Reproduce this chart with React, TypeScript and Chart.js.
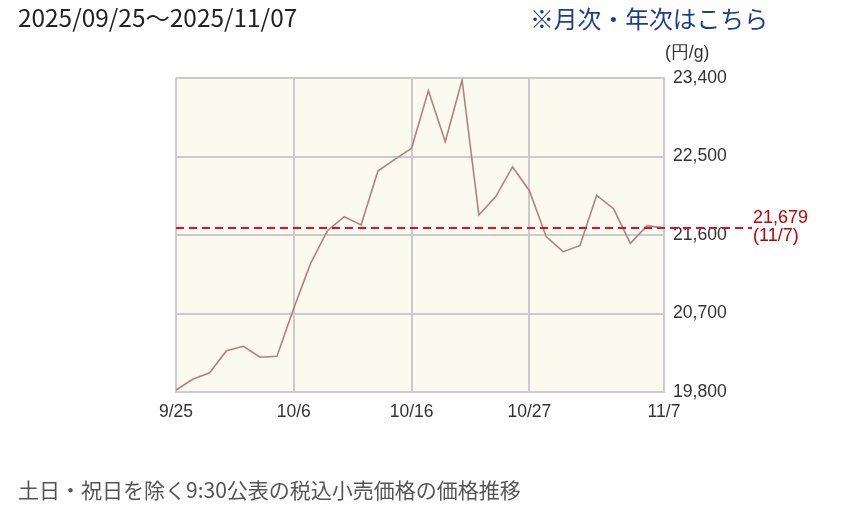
import React, { useEffect, useRef } from 'react';
import { Chart, registerables } from 'chart.js';

Chart.register(...registerables);

const dates = ['9/25','9/26','9/29','9/30','10/1','10/2','10/3','10/6','10/7','10/8','10/9','10/10','10/14','10/15','10/16','10/17','10/20','10/21','10/22','10/23','10/24','10/27','10/28','10/29','10/30','10/31','11/4','11/5','11/6','11/7'];
const prices = [19823,19946,20021,20274,20324,20198,20209,20759,21275,21650,21810,21715,22334,22468,22594,23255,22670,23377,21829,22040,22380,22108,21581,21409,21478,22055,21902,21504,21707,21679];
const tickDates = ['9/25','10/6','10/16','10/27','11/7'];
const yMin = 19800;
const yMax = 23400;
const yStep = 900;

const lastValue = prices[prices.length - 1];
const lastDate = dates[dates.length - 1];

const GRID = '#cbcbcb';
const TICK_FONT = "'Liberation Sans', Arial, sans-serif";

const bgPlugin = {
  id: 'plotBg',
  beforeDraw(chart: any) {
    const { ctx, chartArea } = chart;
    ctx.save();
    ctx.fillStyle = '#fafaee';
    ctx.fillRect(chartArea.left, chartArea.top, chartArea.right - chartArea.left, chartArea.bottom - chartArea.top);
    ctx.restore();
  },
};

const lastPlugin = {
  id: 'lastLine',
  afterDraw(chart: any) {
    const { ctx, chartArea } = chart;
    const y = chart.scales.y.getPixelForValue(lastValue);
    ctx.save();
    ctx.strokeStyle = '#ec0a1e';
    ctx.lineWidth = 2;
    ctx.setLineDash([8, 5]);
    ctx.beginPath();
    ctx.moveTo(chartArea.left, y);
    ctx.lineTo(chartArea.right + 88, y);
    ctx.stroke();
    ctx.setLineDash([]);
    ctx.fillStyle = '#c00000';
    ctx.font = `18px ${TICK_FONT}`;
    ctx.textAlign = 'left';
    ctx.textBaseline = 'middle';
    ctx.fillText(lastValue.toLocaleString('en-US'), chartArea.right + 89, y - 10);
    ctx.fillText(`(${lastDate})`, chartArea.right + 89, y + 8);
    ctx.restore();
  },
};

function PriceChart() {
  const ref = useRef<HTMLCanvasElement | null>(null);
  useEffect(() => {
    if (!ref.current) return;
    const chart = new Chart(ref.current, {
      type: 'line',
      data: {
        labels: dates,
        datasets: [
          {
            data: prices,
            borderColor: '#b57f7f',
            borderWidth: 1.6,
            pointRadius: 0,
            tension: 0,
            fill: false,
          },
        ],
      },
      options: {
        animation: false,
        responsive: false,
        devicePixelRatio: 1,
        layout: { padding: { left: 176, top: 78, right: 0, bottom: 0 } },
        plugins: { legend: { display: false }, tooltip: { enabled: false } },
        scales: {
          x: {
            type: 'category',
            offset: false,
            afterFit(scale: any) { scale.height = 136; },
            grid: {
              color: (c: any) => (tickDates.includes(dates[c.index]) ? GRID : 'rgba(0,0,0,0)'),
              lineWidth: 2,
              drawTicks: false,
            },
            border: { color: GRID, width: 2 },
            ticks: {
              autoSkip: false,
              maxRotation: 0,
              minRotation: 0,
              padding: 10,
              color: '#333',
              font: { family: TICK_FONT, size: 17.5 },
              callback: (_v: any, i: number) => (tickDates.includes(dates[i]) ? dates[i] : ''),
            },
          },
          y: {
            position: 'right',
            min: yMin,
            max: yMax,
            afterFit(scale: any) { scale.width = 194; },
            grid: { color: GRID, lineWidth: 2, drawTicks: false },
            border: { color: GRID, width: 2 },
            ticks: {
              stepSize: yStep,
              padding: 9,
              color: '#333',
              font: { family: TICK_FONT, size: 17.6 },
              callback: (v: any) => Number(v).toLocaleString('en-US'),
            },
          },
        },
      },
      plugins: [bgPlugin, lastPlugin],
    });
    return () => chart.destroy();
  }, []);
  return <canvas ref={ref} width={858} height={528} style={{ position: 'absolute', left: 0, top: 0, width: 858, height: 528 }} />;
}

export default function App() {
  const jp = "'Noto Sans CJK JP', 'Noto Sans', sans-serif";
  return (
    <div style={{ position: 'absolute', left: 0, top: 0, width: 858, height: 528, background: '#fff', overflow: 'hidden' }}>
      <PriceChart />
      <div style={{ position: 'absolute', left: 18, top: 5, fontFamily: jp, fontSize: 24.4, lineHeight: 1, color: '#222', whiteSpace: 'nowrap' }}>
        2025/09/25〜2025/11/07
      </div>
      <div style={{ position: 'absolute', left: 530, top: 6, fontFamily: jp, fontSize: 23.8, lineHeight: 1, color: '#1b3d91', whiteSpace: 'nowrap' }}>
        ※月次・年次はこちら
      </div>
      <div style={{ position: 'absolute', left: 665, top: 44, fontFamily: TICK_FONT, fontSize: 17.6, lineHeight: 1, color: '#333', whiteSpace: 'nowrap' }}>
        (円/g)
      </div>
      <div style={{ position: 'absolute', left: 18, top: 479, fontFamily: jp, fontSize: 21, lineHeight: 1, color: '#555', whiteSpace: 'nowrap' }}>
        土日・祝日を除く9:30公表の税込小売価格の価格推移
      </div>
    </div>
  );
}
